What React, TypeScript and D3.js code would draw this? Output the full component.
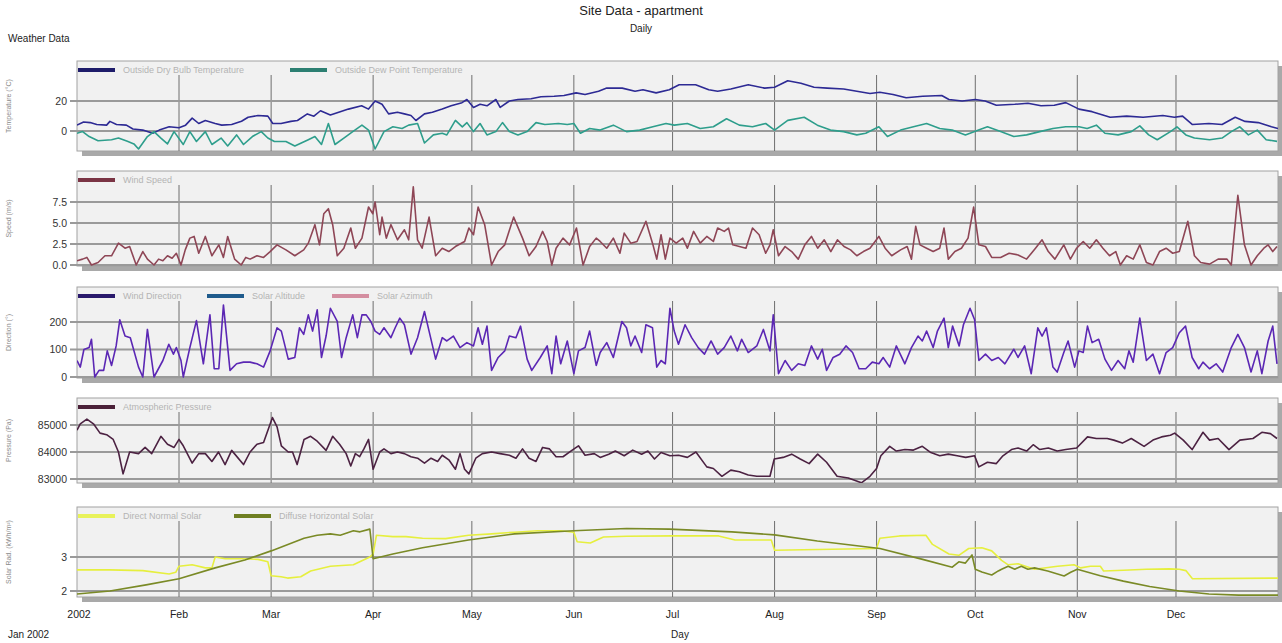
import * as d3 from 'd3';

type Pt = [number, number];

// [day of year, value]
const dryBulb: Pt[] = [[0,3.9],[2,6],[4,5.6],[6,4.3],[9,3.9],[10,6.4],[12,4.3],[15,3.9],[17,1.3],[20,0.6],[23,-1.5],[25,0.6],[28,2.8],[31,2.2],[33,3.9],[35,8.6],[37,5],[39,7],[42,5],[44,3.9],[47,4.3],[50,6.5],[52,9.2],[55,10.3],[58,9.9],[59.5,5],[62,5],[65,6.4],[67,7],[70,11.4],[72,9.9],[74,13.5],[77,10.7],[80,12.9],[82.5,14.6],[86.5,16.8],[88.6,14.6],[90.6,20],[92.7,17.8],[94.7,11.4],[97.4,12.5],[99.5,11.4],[101.5,10.3],[103,7],[105.6,11.4],[108,12.5],[111,14.6],[113.7,16.8],[117,18.9],[118.5,21],[120.5,15.7],[122.5,17.8],[124.6,16.8],[127.3,21],[128.6,15.7],[131.4,20],[134,21],[138,21.5],[141,22.8],[145,23.2],[148,23.7],[151.7,25.4],[154.4,24.3],[158.5,26.5],[161,28.6],[165.7,28.6],[169.6,26.5],[172,27.5],[176,25.4],[180,27.5],[183,30.8],[188,30.8],[192,27.5],[194.7,26.5],[198.7,28],[204,30.8],[209,28.6],[212,29.2],[216,33.5],[220,31.8],[224,29.2],[228,28.6],[233,28],[237,26.5],[241,25],[244,25.8],[248,24.3],[252,22.2],[257,23.2],[262.8,23.7],[265,21],[269,20],[273,21],[276,20],[279.4,17.2],[285,17.8],[289,18.5],[293,16.8],[297,17.2],[300.5,18.9],[304.5,14.6],[308.5,12.9],[314,9.2],[319,9.9],[324,9.2],[330,10.3],[333.5,9.2],[336,9.9],[339,4.3],[344,5],[348,4.3],[352,9.2],[355,6.4],[359,5.6],[363,2.8],[365,1.7]];

const dewPoint: Pt[] = [[0,-1.5],[1.7,-0.4],[3.7,-3.7],[6.4,-6.5],[10.5,-5.8],[12.6,-4.7],[15.3,-6.9],[17.3,-8.6],[18.7,-12],[21.4,-3.7],[23.4,-0.4],[25.5,-4.7],[27.5,-8.6],[29.5,-0.4],[32.3,-9],[34.3,-0.4],[36.3,-7],[39,-0.4],[41,-9],[43.8,-4.7],[45.8,-10],[48.5,-2.6],[50.6,-9],[53.3,-3.7],[56,-0.4],[58,-4.7],[60,-7],[63.5,-7],[66.2,-10],[70.3,-5.8],[72.3,-3.7],[74.3,-9],[76.4,5],[78.4,-9],[81.1,-4.7],[83.8,-0.4],[86.6,3.9],[88.6,0.6],[90.6,-12],[93.3,-0.4],[96,2.8],[98.8,1.7],[100.8,3.9],[103.5,5],[105.6,-8],[108.3,-2.6],[111,-1.5],[112.4,-2.6],[115,7.1],[117.1,2.8],[118.5,5.6],[120.5,-0.4],[122.5,5],[124.6,-2.6],[127.3,-0.4],[129.3,5.6],[131.4,-0.4],[134,-2.6],[136.8,-0.4],[139.5,5.6],[142.2,4.3],[146.3,5],[149,4.3],[151,5],[153,-1.5],[155.8,1.7],[159,0.6],[163,3.9],[167,-0.4],[171,0.6],[175,2.8],[179,5],[181.5,3.9],[185.5,5],[189.4,1.7],[193.4,2.8],[197.4,8.2],[201.3,3.9],[205.3,2.8],[209.3,5],[212,0.6],[216,7.1],[221,9.2],[225,3.9],[229,0.6],[233,-0.4],[237,-2.6],[239.7,-1.5],[243.7,2.8],[246.3,-3.7],[250.3,0.6],[254.2,2.8],[258.2,5],[262.2,1.7],[266,0.6],[270,-2.6],[274,0.6],[276.7,2.8],[280.7,-0.4],[284.7,-3.7],[288.6,-2.6],[292.6,-0.4],[296.6,1.7],[300.5,2.8],[304.5,2.8],[307,1.7],[309.8,3.9],[312.4,-1.5],[316.4,-2.6],[320.4,-0.4],[323,3.4],[325.7,-2.6],[328.3,-5.8],[332.3,-0.4],[334.3,2.8],[337,-2.6],[339.6,-4.7],[344.2,-5.8],[348,-4.7],[350.8,-0.4],[353.4,2.8],[356,-2.6],[358.7,0.6],[361.4,-5.8],[364.7,-6.9]];

const windSpeed: Pt[] = [[0,0.5],[1.7,0.7],[3,0.9],[4.4,0],[6.4,0.3],[8.5,1.1],[10.5,1.1],[12.6,2.6],[14.6,2],[16,2.2],[18,0],[20,1.6],[21.4,0.7],[23.4,0],[24.8,0.7],[26.1,0.5],[27.5,1.1],[28.9,0.8],[30.2,1.4],[31.6,0],[32.9,1.8],[34.3,3.2],[35.6,3.4],[37,1.4],[39,3.4],[41,1.1],[43.1,2.4],[44.5,0.9],[45.8,3.4],[47.9,0.7],[49.9,0],[51.3,0.9],[52.6,0.7],[54.7,1.1],[56.7,0.9],[58.7,1.6],[60.8,2.4],[63.5,1.8],[66.2,1.1],[68.9,1.8],[70.3,2.6],[72.3,4.8],[73.7,2.4],[75,6.1],[76.4,6.7],[77.7,4.8],[79.1,1.1],[81.1,2],[83.2,4.4],[84.6,2],[86.6,3.2],[88.6,6.9],[89.9,6.1],[90.6,7.5],[92,3.6],[92.7,5.7],[94,3.2],[95.4,4.8],[97.4,3],[99.5,4.2],[100.8,3],[102.2,9.3],[103.5,3],[104.9,2],[107,5.7],[109,1.1],[111,2],[113,1.6],[115,2.2],[117.8,2.8],[119.1,4.4],[120.5,3.6],[121.9,6.9],[123.9,4.8],[126,0],[128,1.6],[130,2.4],[132.7,5.7],[135.4,3.2],[137.4,1.1],[139.5,2.2],[141.5,4],[142.9,2.8],[144.3,0],[145.6,2],[147.7,3.2],[149.7,2.4],[151.8,4.4],[153.8,0],[155.8,2.2],[157.8,3.2],[159,2.8],[161,2],[163,3.2],[165,1.4],[166.3,3.8],[168.3,2.6],[170.2,2.8],[172.9,5.2],[174.9,2.6],[176.2,0.7],[177.5,3.6],[178.8,0.7],[180.2,3.2],[182.1,2.6],[184.1,3.2],[185.5,2],[187.4,4],[189.4,2.6],[191.4,3.4],[193.4,2.8],[194.7,4.4],[196.7,4],[198,4.4],[199.3,2.4],[201.3,2.2],[203.3,2],[205.3,4.4],[207.3,3.6],[209.3,1.4],[210.6,2.4],[211.6,4.2],[213.2,1.1],[215.2,2.2],[217.2,1.6],[219.2,0.7],[221.2,2.4],[223.2,3.4],[225.1,2],[227.1,3],[229.1,1.6],[231.1,3],[233.1,2.2],[235.1,1.8],[237,1.1],[239,1.6],[241,2],[243.7,3.4],[245.6,2],[247.6,1.1],[250.3,1.8],[252.3,2.2],[253.6,0.7],[254.9,4.6],[256.2,2.4],[258.2,2],[260.2,1.6],[262.2,2],[263.5,4.4],[264.8,0.7],[266.8,1.6],[268.8,2],[270.8,3.2],[272.5,6.9],[274.1,2.4],[276.1,2.2],[278,0.9],[280.7,0.9],[283.3,1.4],[286,1.2],[288.6,0.7],[291.3,2],[293.3,3],[295.2,1.6],[297.2,0.7],[299.9,2.4],[301.9,0.7],[303.8,2],[305.8,2.8],[307.8,2],[309.8,3],[311.8,2],[313.8,1.1],[315.7,1.6],[317.1,0],[319,1.1],[321,0.7],[323,2.4],[325,0.3],[327,0],[329,1.6],[331,2],[333,1.4],[335,1.6],[337.6,5.2],[339.6,1.1],[341.5,0.3],[344.2,0.1],[346.8,0.7],[349.5,0.7],[350.8,0],[352.8,8.3],[354.8,2.4],[356.8,0],[358.7,1.1],[360.7,2],[362,2.4],[363.4,1.6],[364.7,2.2]];

const windDirection: Pt[] = [[0,60],[1,36],[2.1,100],[3.7,107],[4.4,137],[5.4,0],[6.7,24],[8.1,24],[9.2,95],[10.5,42],[11.9,113],[13,208],[14.6,149],[16.2,143],[18.7,36],[20,0],[21.4,173],[23.4,0],[26.1,60],[27.9,119],[29.3,83],[30.2,107],[31.6,60],[32.3,0],[34.3,107],[36.3,205],[38.4,48],[40.4,226],[41.7,30],[43.1,30],[44.5,262],[46.5,24],[48.5,48],[50.6,54],[52.6,54],[54.7,48],[56.7,36],[58.7,95],[60.8,179],[62.1,167],[64.2,65],[66.2,71],[67.6,179],[68.9,155],[70.3,226],[71.6,167],[73,244],[74.3,71],[75.7,149],[77,250],[79.1,202],[80.4,71],[81.8,143],[83.8,226],[85.2,143],[86.6,226],[87.9,226],[89.3,202],[90.6,167],[92,155],[93.3,179],[95.4,143],[96.7,179],[98.1,214],[99.5,190],[101.5,83],[103.5,143],[105.6,238],[107,167],[109,65],[111,143],[112.4,131],[114.4,149],[116.4,107],[118.5,125],[120.5,113],[121.9,179],[123.2,119],[124.6,185],[126,24],[128,71],[130,95],[131.4,149],[133.4,143],[134.8,185],[136.8,65],[138.2,24],[140.8,71],[142.9,113],[144.3,12],[145.6,149],[147,48],[149,131],[151,12],[152.4,95],[154.4,107],[155.8,167],[157.8,42],[159,89],[161,125],[163,71],[165.6,202],[167,179],[168.3,113],[169.6,149],[171.6,89],[172.9,190],[174.9,179],[176.2,36],[177.5,60],[178.8,48],[180.2,250],[181.5,167],[182.8,119],[184.8,190],[186.8,143],[188.8,107],[190.7,83],[192.7,131],[194.7,83],[196.7,107],[198.7,149],[200.7,95],[202,137],[204,89],[206.6,113],[208.6,173],[210.6,95],[211.6,226],[213.2,12],[215.2,60],[217.2,24],[219.2,48],[221.2,42],[223.2,113],[225.1,65],[226.5,101],[227.8,24],[229.8,71],[231.8,83],[233.7,113],[235.7,89],[237.7,30],[239.7,30],[241.7,54],[243.7,48],[245,71],[247,36],[249,113],[251.6,48],[253.6,107],[255.6,149],[256.9,131],[258.2,167],[260.2,107],[261.5,167],[263.5,214],[264.8,107],[266.1,185],[268.1,113],[269.4,190],[271.4,250],[272.8,208],[274.1,60],[276.1,83],[278,60],[280,71],[282,48],[284.7,101],[286,71],[288,113],[290,12],[292,179],[293.3,149],[294.6,179],[296.6,36],[297.9,18],[299.9,89],[301.2,131],[303.2,36],[304.5,95],[305.8,89],[307.1,185],[308.5,125],[310.5,137],[312.4,65],[314.4,24],[316.4,60],[318.4,30],[319.7,95],[321,54],[323,214],[325,60],[327,83],[329,12],[331,89],[333,107],[335,161],[336.9,185],[338.9,71],[340.9,30],[342.2,54],[344.2,30],[346.2,48],[348.2,18],[350.8,107],[352.8,155],[354.8,107],[356.8,18],[358.7,95],[360.1,12],[362,131],[363.4,185],[364.7,48]];

const pressure: Pt[] = [[0,84810],[1,85045],[3,85220],[5,85045],[7,84700],[9,84640],[11,84465],[12.6,84000],[14,83190],[16,84000],[18.7,83940],[20.7,84170],[22.7,83940],[25.5,84580],[27.5,84290],[29.5,84170],[31,84465],[32.3,84230],[35,83590],[37,83940],[39,83940],[41,83650],[43,84000],[45,83535],[47,84060],[50.6,83535],[52.6,84000],[54.7,84290],[56.7,84350],[59.4,85275],[60.8,84930],[62.1,84230],[64.2,84000],[65.5,84000],[66.9,83535],[69,84465],[71,84580],[73,84400],[75.7,84060],[77.7,84580],[79.8,84290],[81.8,83940],[83.2,83480],[84.6,83940],[85.9,83825],[87.2,84115],[88.6,84465],[90,83360],[92,84000],[93.3,84115],[95.4,83940],[97.4,84000],[99.5,83940],[101.5,83825],[103.5,83770],[105.6,83590],[107.6,83770],[109.6,83650],[111,83880],[113,83710],[115,83360],[116.4,83940],[117.8,83360],[119.1,83190],[121.2,83770],[123.2,83940],[126,84000],[128.6,83940],[131.4,83880],[133.4,83770],[135.4,84115],[137.4,83770],[139.5,83650],[141.5,84170],[143.6,84115],[145.6,83825],[147.7,83825],[150.4,84060],[152.4,84230],[154.4,83880],[157.2,83940],[159,83800],[161.6,83920],[163.6,84035],[166.3,83860],[168.9,84070],[171.6,83920],[173.5,84035],[175.5,83740],[177.5,83980],[180.2,83860],[182.8,83880],[185.5,83800],[188.1,84000],[191.4,83450],[193.4,83390],[196,83100],[198.7,83330],[201.3,83270],[204,83150],[206.6,83100],[210.6,83100],[211.9,83740],[214.6,83800],[217.2,83920],[219.8,83740],[222.5,83570],[225.1,83920],[227.8,83620],[231,83100],[234.4,83040],[238.4,82860],[241,83100],[243,83390],[244.3,83860],[247,84210],[249,84035],[251.6,84090],[254.2,84070],[256.9,84210],[259.5,83980],[262.2,83860],[264.8,83920],[267.5,83860],[270.1,83800],[272.8,83860],[274.1,83450],[276.7,83620],[279.4,83570],[281.4,83860],[284,84090],[286,84150],[288.6,84035],[290.6,84270],[292.6,84090],[295.2,84150],[297.9,84035],[300.5,84090],[303.8,84150],[307.1,84560],[309.8,84500],[313.1,84500],[315.1,84440],[317.7,84330],[320.4,84500],[324.3,84210],[327,84440],[329.6,84560],[332.3,84620],[333.6,84700],[336.2,84440],[338.9,84090],[342.2,84730],[344.2,84440],[346.8,84500],[350.1,84090],[353.4,84440],[357.4,84500],[360.1,84730],[362.7,84680],[364.7,84500]];

const directNormal: Pt[] = [[0,2.62],[10,2.62],[20,2.6],[28,2.5],[30,2.55],[31,2.73],[35,2.77],[39,2.68],[41,2.68],[42,3.0],[45,2.95],[50,2.95],[55,2.93],[58,2.86],[59,2.45],[62,2.42],[64,2.38],[68,2.42],[71,2.59],[77,2.73],[84,2.77],[89,3.0],[90,3.09],[91,3.64],[96,3.6],[100,3.6],[105,3.55],[112,3.54],[119,3.64],[126,3.68],[133,3.73],[140,3.77],[147,3.77],[151,3.73],[152,3.45],[156,3.41],[160,3.59],[167,3.61],[181,3.62],[195,3.62],[200,3.5],[211,3.5],[212,3.2],[225,3.22],[243,3.25],[244,3.55],[250,3.62],[258,3.64],[260,3.37],[265,3.09],[268,3.05],[271,3.25],[275,3.27],[278,3.18],[281,2.9],[283,2.77],[286,2.8],[291,2.64],[298,2.73],[303,2.77],[305,2.68],[308,2.73],[311,2.73],[312,2.59],[318,2.61],[325,2.64],[332,2.65],[335,2.64],[337,2.6],[339,2.36],[365,2.38]];

const diffuseHorizontal: Pt[] = [[0,1.91],[10,2.0],[21,2.18],[31,2.36],[42,2.68],[51,2.91],[59,3.18],[69,3.55],[73,3.64],[77,3.68],[80,3.64],[84,3.77],[86,3.74],[89,3.82],[90,2.95],[96,3.09],[105,3.27],[119,3.5],[133,3.68],[151,3.77],[167,3.84],[180,3.82],[199,3.74],[212,3.65],[225,3.47],[244,3.25],[257,2.93],[266,2.7],[268,2.86],[270,2.82],[272,3.06],[273,2.64],[275,2.56],[278,2.47],[280,2.59],[281,2.64],[283,2.73],[285,2.64],[287,2.73],[289,2.64],[291,2.68],[295,2.59],[300,2.44],[302,2.55],[304,2.64],[311,2.45],[318,2.29],[326,2.13],[335,2.0],[344,1.91],[353,1.88],[365,1.88]];

const tempTicks = [0, 20];
const speedTicks = [0, 2.5, 5, 7.5];
const directionTicks = [0, 100, 200];
const pressureTicks = [83000, 84000, 85000];
const solarTicks = [2, 3];

const monthNames = ['2002', 'Feb', 'Mar', 'Apr', 'May', 'Jun', 'Jul', 'Aug', 'Sep', 'Oct', 'Nov', 'Dec'];

const FONT = '"Liberation Sans", Arial, sans-serif';
const X0 = 77;
const X1 = 1278;

const start = Date.UTC(2002, 0, 1);
const x = d3.scaleUtc().domain([new Date(start), new Date(Date.UTC(2003, 0, 1))]).range([X0, X1]);
const dayX = (d: number) => x(new Date(start + d * 864e5));
const months = x.ticks(d3.utcMonth.every(1)!).filter(d => d.getUTCFullYear() === 2002);

interface Series { label: string; color: string; swatch: string; data: Pt[] | null; lx: number }
interface Panel {
  top: number; bottom: number;
  domain: [number, number]; range: [number, number];
  ticks: number[]; fmt: (v: number) => string;
  title: string; series: Series[];
}

const panels: Panel[] = [
  {
    top: 61, bottom: 151, domain: [0, 20], range: [131, 101], ticks: tempTicks, fmt: d3.format('d'),
    title: 'Temperature (°C)',
    series: [
      { label: 'Outside Dry Bulb Temperature', color: '#2d2a94', swatch: '#1e1c6a', data: dryBulb, lx: 78 },
      { label: 'Outside Dew Point Temperature', color: '#2e9e8c', swatch: '#2c7f72', data: dewPoint, lx: 290 },
    ],
  },
  {
    top: 171, bottom: 266, domain: [0, 7.5], range: [265, 202], ticks: speedTicks, fmt: d3.format('.1f'),
    title: 'Speed (m/s)',
    series: [{ label: 'Wind Speed', color: '#8e4656', swatch: '#7a3444', data: windSpeed, lx: 78 }],
  },
  {
    top: 287, bottom: 378, domain: [0, 200], range: [377, 322], ticks: directionTicks, fmt: d3.format('d'),
    title: 'Direction (°)',
    series: [
      { label: 'Wind Direction', color: '#5b27b4', swatch: '#2a1a6c', data: windDirection, lx: 78 },
      { label: 'Solar Altitude', color: '#1f5b8c', swatch: '#1f5b8c', data: null, lx: 207 },
      { label: 'Solar Azimuth', color: '#d48ea0', swatch: '#d48ea0', data: null, lx: 332 },
    ],
  },
  {
    top: 398, bottom: 483, domain: [83000, 85000], range: [479, 425], ticks: pressureTicks, fmt: d3.format('d'),
    title: 'Pressure (Pa)',
    series: [{ label: 'Atmospheric Pressure', color: '#4c2242', swatch: '#4a2038', data: pressure, lx: 78 }],
  },
  {
    top: 507, bottom: 597, domain: [2, 3], range: [591, 557], ticks: solarTicks, fmt: d3.format('d'),
    title: 'Solar Rad. (kWh/m²)',
    series: [
      { label: 'Direct Normal Solar', color: '#e6ef3e', swatch: '#e8f25a', data: directNormal, lx: 78 },
      { label: 'Diffuse Horizontal Solar', color: '#7a8a26', swatch: '#6f7f22', data: diffuseHorizontal, lx: 234 },
    ],
  },
];

const PanelView = ({ p, i }: { p: Panel; i: number }) => {
  const y = d3.scaleLinear().domain(p.domain).range(p.range);
  const line = d3.line<Pt>().x(d => dayX(d[0])).y(d => y(d[1]));
  const h = p.bottom - p.top;
  const mid = (p.top + p.bottom) / 2;
  return (
    <g>
      <defs>
        <clipPath id={`clip${i}`}>
          <rect x={X0} y={p.top} width={X1 - X0} height={h} />
        </clipPath>
      </defs>
      <rect x={X0 + 5} y={p.top + 5} width={X1 - X0} height={h} fill="#a9a9a9" />
      <rect x={X0} y={p.top} width={X1 - X0} height={h} fill="#f1f1f1" stroke="#a2a2a2" strokeWidth={1} />
      {months.slice(1).map((m, k) => (
        <line key={k} x1={x(m)} x2={x(m)} y1={p.top + 14} y2={p.bottom} stroke="#6e6e6e" strokeWidth={1} />
      ))}
      {p.ticks.map(t => (
        <g key={t}>
          <line x1={70} x2={X1} y1={y(t)} y2={y(t)} stroke="#9a9a9a" strokeWidth={2} />
          <text x={67} y={y(t)} dy="0.35em" textAnchor="end" fontSize={10.5} fill="#333" fontFamily={FONT}>{p.fmt(t)}</text>
        </g>
      ))}
      <g clipPath={`url(#clip${i})`}>
        {p.series.filter(s => s.data).map(s => (
          <path key={s.label} d={line(s.data!) ?? ''} fill="none" stroke={s.color} strokeWidth={1.6} strokeLinejoin="round" />
        ))}
      </g>
      {p.series.map(s => (
        <g key={s.label}>
          <rect x={s.lx} y={p.top + 7} width={37} height={4} fill={s.swatch} />
          <text x={s.lx + 45} y={p.top + 12} fontSize={9} fill="#b4b4b4" fontFamily={FONT}>{s.label}</text>
        </g>
      ))}
      <text transform={`translate(11,${mid}) rotate(-90)`} textAnchor="middle" fontSize={7} fill="#8a8a8a" fontFamily={FONT}>{p.title}</text>
    </g>
  );
};

export default function App() {
  const width = 1282;
  const height = 643;
  return (
    <div style={{ position: 'absolute', left: 0, top: 0 }}>
      <svg width={width} height={height} style={{ display: 'block', background: '#fff' }}>
        <text x={641} y={15} textAnchor="middle" fontSize={13} fill="#222" fontFamily={FONT}>Site Data - apartment</text>
        <text x={641} y={32} textAnchor="middle" fontSize={10} fill="#222" fontFamily={FONT}>Daily</text>
        <text x={8} y={42} fontSize={10} fill="#222" fontFamily={FONT}>Weather Data</text>
        {panels.map((p, i) => <PanelView key={i} p={p} i={i} />)}
        {months.map((m, k) => (
          <text key={k} x={x(m) + (k === 0 ? 2 : 0)} y={618} textAnchor="middle" fontSize={10.5} fill="#222" fontFamily={FONT}>{monthNames[k]}</text>
        ))}
        <text x={8} y={638} fontSize={10} fill="#222" fontFamily={FONT}>Jan 2002</text>
        <text x={680} y={638} textAnchor="middle" fontSize={10} fill="#222" fontFamily={FONT}>Day</text>
      </svg>
    </div>
  );
}
